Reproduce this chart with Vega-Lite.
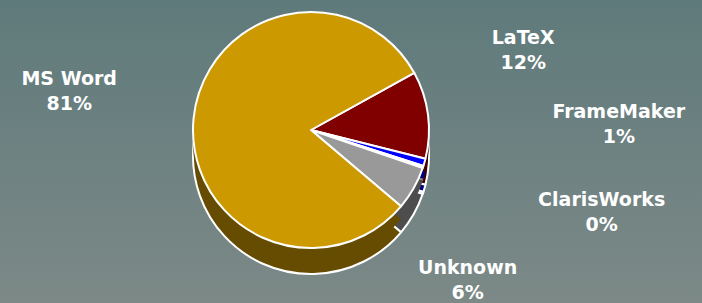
{
  "$schema": "https://vega.github.io/schema/vega-lite/v6.json",
  "width": 702,
  "height": 303,
  "padding": 0,
  "autosize": {"type": "none"},
  "background": "#6d8181",
  "view": {
    "stroke": null,
    "fill": {
      "gradient": "linear",
      "x1": 0, "y1": 0, "x2": 0, "y2": 1,
      "stops": [
        {"offset": 0, "color": "#5f7a7b"},
        {"offset": 1, "color": "#7c8987"}
      ]
    }
  },
  "config": {
    "text": {"font": "DejaVu Sans", "fontWeight": "bold", "fontSize": 19, "fill": "#ffffff", "lineBreak": "\n", "lineHeight": 25, "align": "center", "baseline": "middle"}
  },
  "data": {
    "values": [
      {"software": "LaTeX", "share": 12, "rank": 1, "label": "LaTeX\n12%"},
      {"software": "FrameMaker", "share": 1, "rank": 2, "label": "FrameMaker\n1%"},
      {"software": "ClarisWorks", "share": 0.3, "rank": 3, "label": "ClarisWorks\n0%"},
      {"software": "Unknown", "share": 6, "rank": 4, "label": "Unknown\n6%"},
      {"software": "MS Word", "share": 81, "rank": 5, "label": "MS Word\n81%"}
    ]
  },
  "encoding": {
    "theta": {"field": "share", "type": "quantitative", "stack": true, "scale": {"range": [1.065, 7.348]}},
    "order": {"field": "rank", "type": "quantitative"}
  },
  "layer": [
    {
      "mark": {"type": "arc", "outerRadius": 118, "xOffset": -40, "yOffset": 4.5, "stroke": "#ffffff", "strokeWidth": 2, "strokeJoin": "round"},
      "encoding": {
        "color": {"field": "software", "type": "nominal", "legend": null,
          "scale": {"domain": ["LaTeX", "FrameMaker", "ClarisWorks", "Unknown", "MS Word"], "range": ["#400000", "#000080", "#808080", "#4d4d4d", "#664c00"]}}
      }
    },
    {
      "mark": {"type": "arc", "outerRadius": 118, "xOffset": -40, "yOffset": -8.5},
      "encoding": {
        "color": {"field": "software", "type": "nominal", "legend": null,
          "scale": {"domain": ["LaTeX", "FrameMaker", "ClarisWorks", "Unknown", "MS Word"], "range": ["#400000", "#000080", "#808080", "#4d4d4d", "#664c00"]}}
      }
    },
    {
      "mark": {"type": "arc", "outerRadius": 118, "xOffset": -40, "yOffset": -21.5, "stroke": "#ffffff", "strokeWidth": 2, "strokeJoin": "round"},
      "encoding": {
        "fill": {"field": "software", "type": "nominal", "legend": null,
          "scale": {"domain": ["LaTeX", "FrameMaker", "ClarisWorks", "Unknown", "MS Word"], "range": ["#800000", "#0000ff", "#ffffff", "#999999", "#cc9900"]}}
      }
    },
    {
      "mark": {"type": "text", "radius": 243, "xOffset": -40, "yOffset": -21.5, "dy": -27},
      "encoding": {"text": {"condition": {"test": "datum.software === 'MS Word'", "field": "label"}, "value": ""}}
    },
    {
      "mark": {"type": "text", "radius": 214, "xOffset": -40, "yOffset": -21.5, "dy": -64},
      "encoding": {"text": {"condition": {"test": "datum.software === 'LaTeX'", "field": "label"}, "value": ""}}
    },
    {
      "mark": {"type": "text", "radius": 320, "xOffset": -40, "yOffset": -21.5, "dy": -106},
      "encoding": {"text": {"condition": {"test": "datum.software === 'FrameMaker'", "field": "label"}, "value": ""}}
    },
    {
      "mark": {"type": "text", "radius": 306, "xOffset": -40, "yOffset": -21.5, "dy": -26},
      "encoding": {"text": {"condition": {"test": "datum.software === 'ClarisWorks'", "field": "label"}, "value": ""}}
    },
    {
      "mark": {"type": "text", "radius": 180, "xOffset": -40, "yOffset": -21.5, "dy": 49},
      "encoding": {"text": {"condition": {"test": "datum.software === 'Unknown'", "field": "label"}, "value": ""}}
    }
  ]
}
